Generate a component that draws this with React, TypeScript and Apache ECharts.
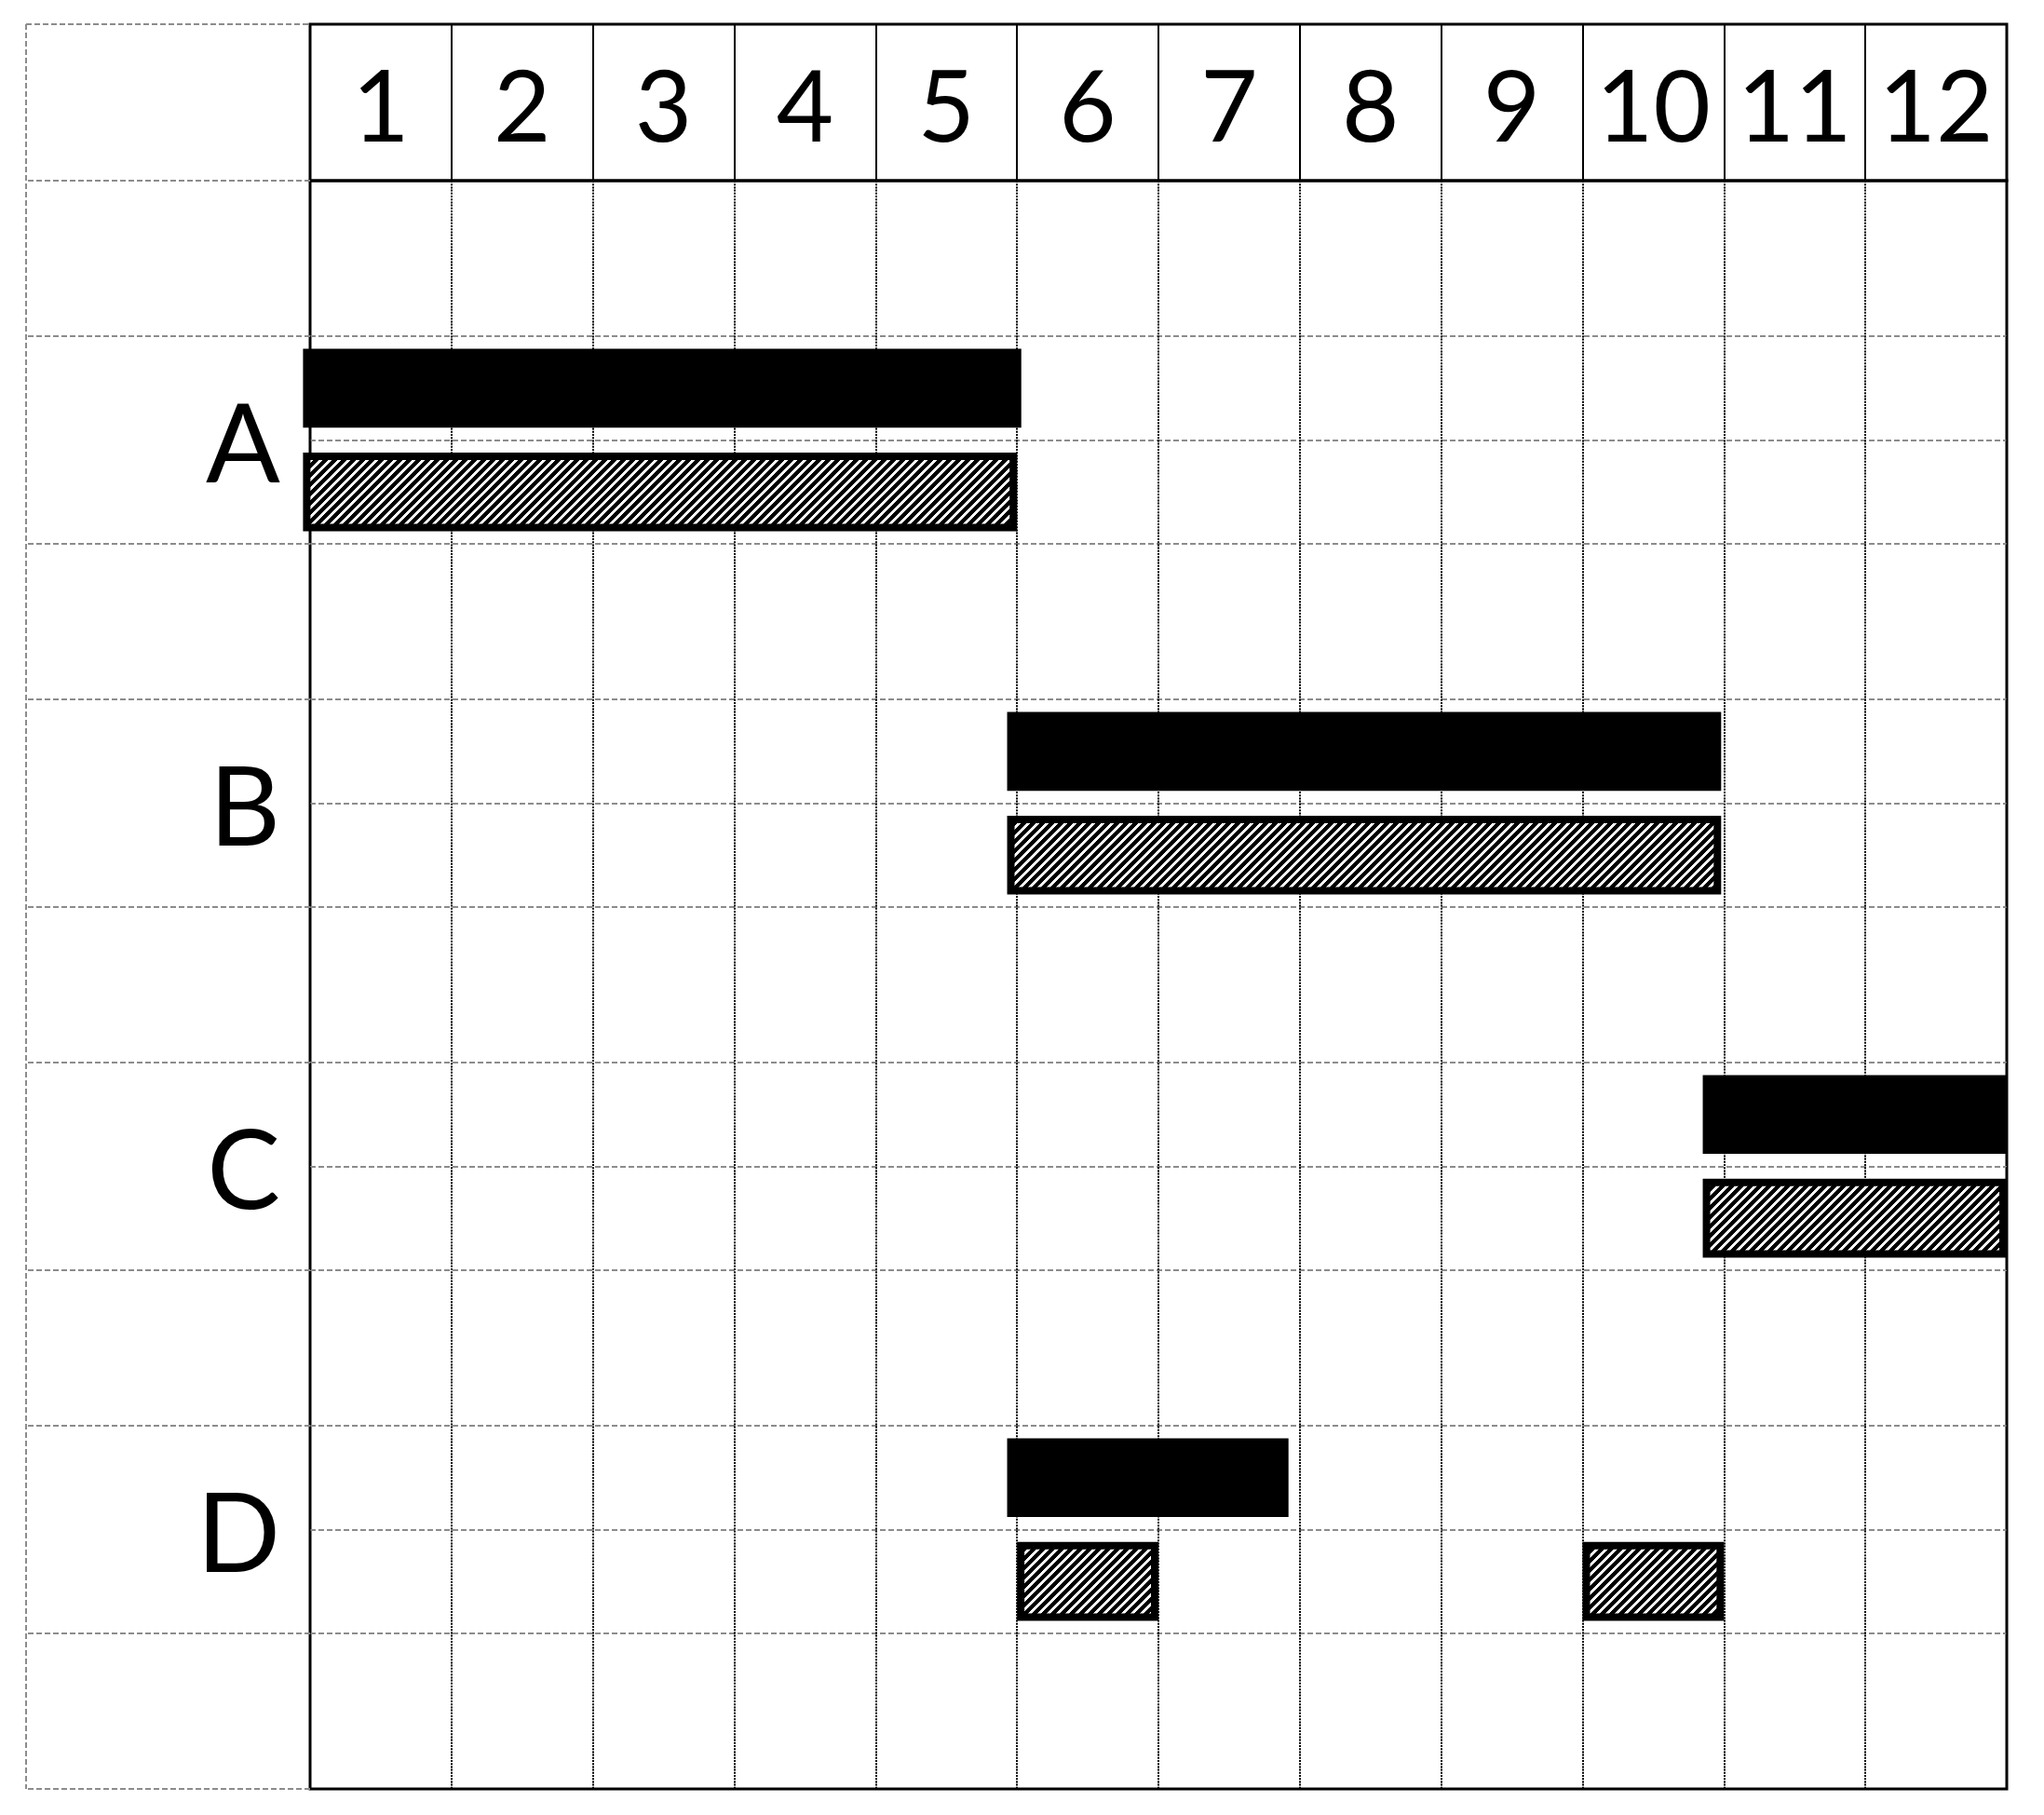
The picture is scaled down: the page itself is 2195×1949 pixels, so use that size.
import React, { useEffect, useRef } from 'react';
import * as echarts from 'echarts';

// ---- data ----
const months = ['1', '2', '3', '4', '5', '6', '7', '8', '9', '10', '11', '12'];
const tasks = ['A', 'B', 'C', 'D'];
// planned bars (solid black), month positions
const planStart = [-0.05, 4.93, 9.85, 4.93];
const planEnd = [5.03, 9.98, 12, 6.92];
// actual bars (hatched)
const actualTask = [0, 1, 2, 3, 3];
const actualStart = [-0.05, 4.93, 9.85, 5.0, 9.0];
const actualEnd = [5.0, 9.98, 12, 6.0, 10.0];

// ---- layout (half-row slots on the vertical axis) ----
const SLOT_COUNT = 32;
const FIRST_CENTER = 5;
const CENTER_STEP = 7;
const centerSlot = (k: number) => FIRST_CENTER + CENTER_STEP * k;

const W = 2195;
const H = 1949;
const FRAME_L = 333;
const FRAME_R = 2155;
const FRAME_T = 26;
const HEAD_B = 194;
const FRAME_B = 1921;
const OUTER_L = 28;

const GRAY = '#8c8c8c';
const DASH = [6, 3];

function makeHatch() {
  const size = 10;
  const c = document.createElement('canvas');
  c.width = size;
  c.height = size;
  const ctx = c.getContext('2d')!;
  const img = ctx.createImageData(size, size);
  for (let y = 0; y < size; y++) {
    for (let x = 0; x < size; x++) {
      const black = (x + y) % size < 6;
      const i = (y * size + x) * 4;
      const v = black ? 0 : 255;
      img.data[i] = v;
      img.data[i + 1] = v;
      img.data[i + 2] = v;
      img.data[i + 3] = 255;
    }
  }
  ctx.putImageData(img, 0, 0);
  return { image: c.toDataURL(), repeat: 'repeat', imageWidth: size, imageHeight: size } as any;
}

export default function App() {
  const ref = useRef<HTMLDivElement>(null);

  useEffect(() => {
    if (!ref.current) return;
    const chart = echarts.init(ref.current, undefined, { renderer: 'svg' });
    const hatch = makeHatch();

    const centers = tasks.map((_, k) => centerSlot(k));
    const splitSlots = new Set<number>();
    const tickSlots = new Set<number>([0, SLOT_COUNT - 1]);
    centers.forEach((c) => {
      splitSlots.add(c - 2);
      splitSlots.add(c);
      splitSlots.add(c + 2);
      tickSlots.add(c - 2);
      tickSlots.add(c + 2);
    });
    const slotNames = Array.from({ length: SLOT_COUNT }, (_, i) => {
      const k = centers.indexOf(i);
      return k >= 0 ? tasks[k] : '_' + i;
    });
    const labelSlots = new Set(centers);

    const barData: any[] = [];
    tasks.forEach((_, k) => {
      barData.push([planStart[k], planEnd[k], centers[k] - 1, 0]);
    });
    actualTask.forEach((k, j) => {
      barData.push([actualStart[j], actualEnd[j], centers[k] + 1, 1]);
    });

    const option: any = {
      animation: false,
      backgroundColor: '#fff',
      textStyle: { fontFamily: 'Lato' },
      grid: [
        {
          left: FRAME_L,
          right: W - FRAME_R,
          top: HEAD_B,
          bottom: H - FRAME_B,
          show: true,
          borderColor: '#000',
          borderWidth: 3,
          backgroundColor: 'transparent',
        },
        {
          left: FRAME_L,
          right: W - FRAME_R,
          top: FRAME_T,
          height: HEAD_B - FRAME_T,
          show: true,
          borderColor: '#000',
          borderWidth: 3,
          backgroundColor: 'transparent',
        },
      ],
      xAxis: [
        {
          type: 'value',
          gridIndex: 0,
          min: 0,
          max: 12,
          interval: 1,
          axisLabel: { show: false },
          axisTick: { show: false },
          axisLine: { show: false },
          splitLine: { show: true, lineStyle: { color: '#000', width: 2, type: [2, 1.2] } },
        },
        {
          type: 'category',
          gridIndex: 1,
          data: months,
          boundaryGap: true,
          position: 'bottom',
          axisLine: { show: false },
          axisTick: { show: false },
          axisLabel: {
            inside: true,
            interval: 0,
            margin: 83,
            verticalAlign: 'middle',
            fontSize: 106,
            fontFamily: 'Lato',
            color: '#000',
          },
          splitLine: { show: true, interval: 0, lineStyle: { color: '#000', width: 2 } },
        },
      ],
      yAxis: [
        {
          type: 'category',
          gridIndex: 0,
          data: slotNames,
          boundaryGap: false,
          inverse: true,
          axisLine: { show: false },
          axisTick: {
            show: true,
            inside: false,
            length: FRAME_L - OUTER_L,
            interval: (i: number) => tickSlots.has(i),
            lineStyle: { color: GRAY, width: 2, type: DASH },
          },
          axisLabel: {
            show: true,
            interval: (i: number) => labelSlots.has(i),
            margin: 32,
            fontSize: 118,
            fontFamily: 'Lato',
            color: '#000',
          },
          splitLine: {
            show: true,
            interval: (i: number) => splitSlots.has(i),
            lineStyle: { color: GRAY, width: 2, type: DASH },
          },
        },
        { type: 'value', gridIndex: 1, show: false, min: 0, max: 1 },
      ],
      graphic: [
        {
          type: 'line',
          shape: { x1: OUTER_L, y1: FRAME_T, x2: OUTER_L, y2: FRAME_B },
          style: { stroke: GRAY, lineWidth: 2, lineDash: DASH },
          silent: true,
        },
        {
          type: 'line',
          shape: { x1: OUTER_L, y1: FRAME_T, x2: FRAME_L, y2: FRAME_T },
          style: { stroke: GRAY, lineWidth: 2, lineDash: DASH },
          silent: true,
        },
      ],
      series: [
        {
          type: 'custom',
          xAxisIndex: 0,
          yAxisIndex: 0,
          clip: false,
          z: 5,
          encode: { x: [0, 1], y: 2 },
          data: barData,
          renderItem: (params: any, api: any) => {
            const s = api.value(0);
            const e = api.value(1);
            const slot = api.value(2);
            const kind = api.value(3);
            const p0 = api.coord([s, slot]);
            const p1 = api.coord([e, slot]);
            const slotH = Math.abs(api.coord([s, slot + 1])[1] - p0[1]);
            const h = slotH * 1.52;
            if (kind === 0) {
              return {
                type: 'rect',
                shape: { x: p0[0], y: p0[1] - h / 2, width: p1[0] - p0[0], height: h },
                style: { fill: '#000' },
              };
            }
            const lw = 8;
            return {
              type: 'rect',
              shape: {
                x: p0[0] + lw / 2,
                y: p0[1] - h / 2 + lw / 2,
                width: p1[0] - p0[0] - lw,
                height: h - lw,
              },
              style: { fill: hatch, stroke: '#000', lineWidth: lw },
            };
          },
        },
      ],
    };

    chart.setOption(option);
    return () => chart.dispose();
  }, []);

  return (
    <div
      ref={ref}
      style={{
        position: 'absolute',
        left: 0,
        top: 0,
        width: W,
        height: H,
        background: '#fff',
        imageRendering: 'pixelated',
      }}
    />
  );
}
